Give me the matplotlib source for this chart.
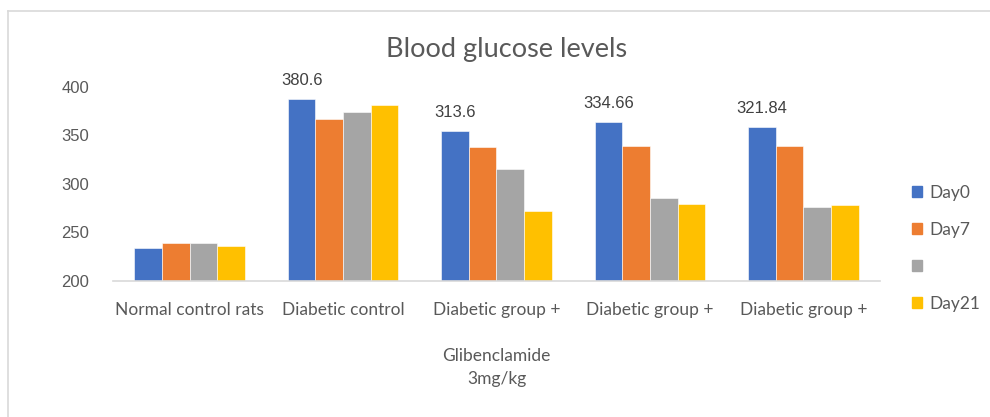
import matplotlib
matplotlib.use("Agg")
import matplotlib.pyplot as plt
import numpy as np
from matplotlib.patches import Patch
from matplotlib.lines import Line2D

categories = ["Normal control rats", "Diabetic control",
              "Diabetic group +\n\nGlibenclamide\n3mg/kg",
              "Diabetic group +", "Diabetic group +"]
series_names = ["Day0", "Day7", "", "Day21"]
day0 = [234, 387, 354, 364, 358]
day7 = [238.5, 366.5, 338, 339, 339]
day14 = [238.5, 374, 315, 285, 276]
day21 = [236, 381, 272, 279, 278]
day0_labels = ["", "380.6", "313.6", "334.66", "321.84"]
yticks = [200, 250, 300, 350, 400]

colors = ["#4472C4", "#ED7D31", "#A5A5A5", "#FFC000"]
series = [day0, day7, day14, day21]

fig = plt.figure(figsize=(9.9, 4.17), dpi=100)
ax = fig.add_axes([113/990, 1-280.7/417, (880-113)/990, (280.7-86.7)/417])

x = np.arange(len(categories))
w = 0.18
handles = []
for i, (vals, c, name) in enumerate(zip(series, colors, series_names)):
    off = (i - 1.5) * w
    ax.bar(x + off, np.array(vals) - 200, bottom=200, width=w, color=c,
           edgecolor="white", linewidth=0.4)
    handles.append(Patch(facecolor=c, edgecolor=c))
    if i == 0:
        for xi, v, lab in zip(x, vals, day0_labels):
            if lab:
                ax.annotate(lab, (xi + off, v), xytext=(0, 8), textcoords="offset points",
                            ha="center", va="bottom", fontsize=12, color="#404040",
                            family="Liberation Sans", annotation_clip=False)

ax.set_xlim(-0.5, 4.5)
ax.set_ylim(200, 400)
ax.set_yticks(yticks)
ax.set_yticklabels([str(t) for t in yticks], family="Liberation Sans", fontsize=12, color="#595959")
ax.set_xticks(x)
ax.set_xticklabels(categories, family="Lato", fontsize=12.5, color="#595959", linespacing=1.55, va="top")
ax.tick_params(axis="y", length=0, pad=17)
ax.tick_params(axis="x", length=0, pad=15)
for s in ["top", "right", "left"]:
    ax.spines[s].set_visible(False)
ax.spines["bottom"].set_color("#D9D9D9")
ax.spines["bottom"].set_linewidth(1.2)

fig.text(507/990, 1-50/417, "Blood glucose levels", ha="center", va="center",
         family="Lato", fontsize=19.5, color="#595959")

fig.legend(handles, series_names, loc="upper left", bbox_to_anchor=(912/990, 1-185/417),
           frameon=False, prop={"family": "Lato", "size": 12.5}, labelcolor="#595959",
           handlelength=0.6, handleheight=0.6, handletextpad=0.4, labelspacing=1.2,
           borderpad=0, borderaxespad=0)

# chart border
fig.add_artist(Line2D([8/990, 1], [1-11/417, 1-11/417], color="#D9D9D9", lw=1.2, transform=fig.transFigure))
fig.add_artist(Line2D([8/990, 8/990], [0, 1-11/417], color="#D9D9D9", lw=1.2, transform=fig.transFigure))

fig.savefig("out.png", dpi=100, facecolor="white")
